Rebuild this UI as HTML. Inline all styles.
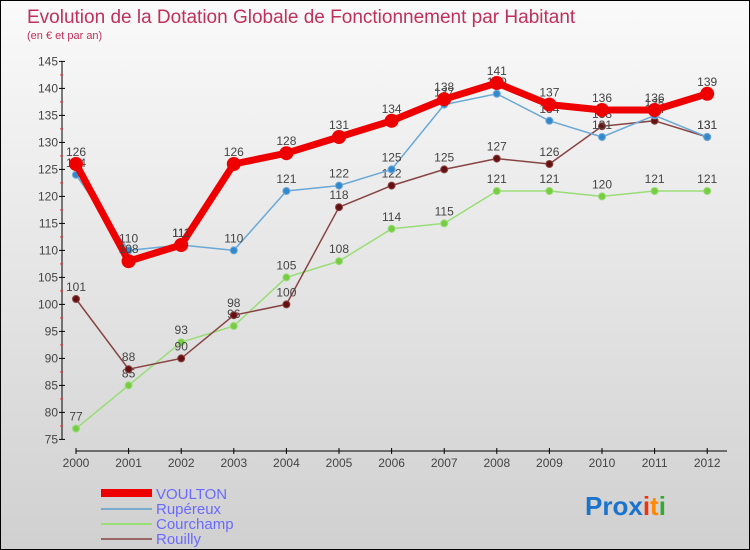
<!DOCTYPE html>
<html><head><meta charset="utf-8"><style>
body{margin:0;}
#wrap{position:relative;width:748px;height:548px;border:1px solid #000;background:linear-gradient(#fafafa,#d0d0d0);font-family:"Liberation Sans",sans-serif;overflow:hidden}
</style></head><body>
<div id="wrap">
<svg id="svg" width="748" height="548" style="position:absolute;left:0;top:0">
<text x="26" y="22" font-size="19" fill="#c0305a">Evolution de la Dotation Globale de Fonctionnement par Habitant</text>
<text x="26" y="38" font-size="11" fill="#c0305a">(en € et par an)</text>
<g id="axes"></g><g id="series"></g>
<g>
<rect x="100" y="488" width="51" height="8" fill="#ee0000"/>
<text x="155" y="498" font-size="15" fill="#6a6aff">VOULTON</text>
<rect x="100" y="507" width="51" height="2" fill="#7aaacc"/>
<text x="155" y="513" font-size="15" fill="#6a6aff">Rupéreux</text>
<rect x="100" y="522" width="51" height="2" fill="#99dd77"/>
<text x="155" y="528" font-size="15" fill="#6a6aff">Courchamp</text>
<rect x="100" y="537" width="51" height="2" fill="#996666"/>
<text x="155" y="543" font-size="15" fill="#6a6aff">Rouilly</text>
</g>
<text x="584" y="514" font-size="26" font-weight="bold"><tspan fill="#1a73cc">Pro</tspan><tspan fill="#1a73cc">x</tspan><tspan fill="#ee3311">i</tspan><tspan fill="#ff8800">t</tspan><tspan fill="#33aa33">i</tspan></text>
</svg>
</div>
<script>
const years=[2000,2001,2002,2003,2004,2005,2006,2007,2008,2009,2010,2011,2012];
const yTicks=[75,80,85,90,95,100,105,110,115,120,125,130,135,140,145];
const voulton=[126,108,111,126,128,131,134,138,141,137,136,136,139];
const rupereux=[124,110,111,110,121,122,125,137,139,134,131,135,131];
const courchamp=[77,85,93,96,105,108,114,115,121,121,120,121,121];
const rouilly=[101,88,90,98,100,118,122,125,127,126,133,134,131];
const NS="http://www.w3.org/2000/svg";
function X(i){return 75+i*52.6;}
function Y(v){return 190+(121-v)*5.4;}
function mk(tag,attrs,parent){const e=document.createElementNS(NS,tag);for(const k in attrs)e.setAttribute(k,attrs[k]);parent.appendChild(e);return e;}
const ax=document.getElementById('axes'),se=document.getElementById('series');
let yl=mk('line',{x1:61,x2:61,y1:Y(145),y2:Y(75),stroke:'#000'},ax);


let xl=mk('line',{x1:75,x2:726,y1:450,y2:450,stroke:'#000'},ax);


yTicks.forEach(v=>{
  mk('line',{x1:58,x2:64,y1:Y(v),y2:Y(v),stroke:'#000'},ax);
  if(v<145) mk('line',{x1:59,x2:62,y1:Y(v+2.5),y2:Y(v+2.5),stroke:'#e33'},ax);
  const t=mk('text',{x:57,y:Y(v)+4,'font-size':12,fill:'#444','text-anchor':'end'},ax);
  t.textContent=v;
  
  
});
years.forEach((y,i)=>{
  mk('line',{x1:X(i),x2:X(i),y1:447,y2:453,stroke:'#000'},ax);
  const t=mk('text',{x:X(i),y:466,'font-size':12,fill:'#444','text-anchor':'middle'},ax);
  t.textContent=y;
  
  
});
function draw(name,data,color,dot,w,r){
  const g=mk('g',{},se);
  
  
  mk('polyline',{points:data.map((v,i)=>X(i)+','+Y(v)).join(' '),fill:'none',stroke:color,'stroke-width':w,'stroke-linejoin':'round'},g);
  data.forEach((v,i)=>{
    const c=mk('circle',{cx:X(i),cy:Y(v),r:r,fill:dot,stroke:color,'stroke-width':1},g);
    
    
    const t=mk('text',{x:X(i),y:Y(v)-8,'font-size':12,fill:'#444','text-anchor':'middle'},g);
    t.textContent=v;
    
    
  });
}
draw('courchamp',courchamp,'#99dd77','#77cc44',1.5,3.5);
draw('rouilly',rouilly,'#884444','#661111',1.5,3.5);
draw('rupereux',rupereux,'#6aa8d8','#3388cc',1.5,3.5);
draw('voulton',voulton,'#ee0000','#ee0000',7,6.5);
</script>
</body></html>
